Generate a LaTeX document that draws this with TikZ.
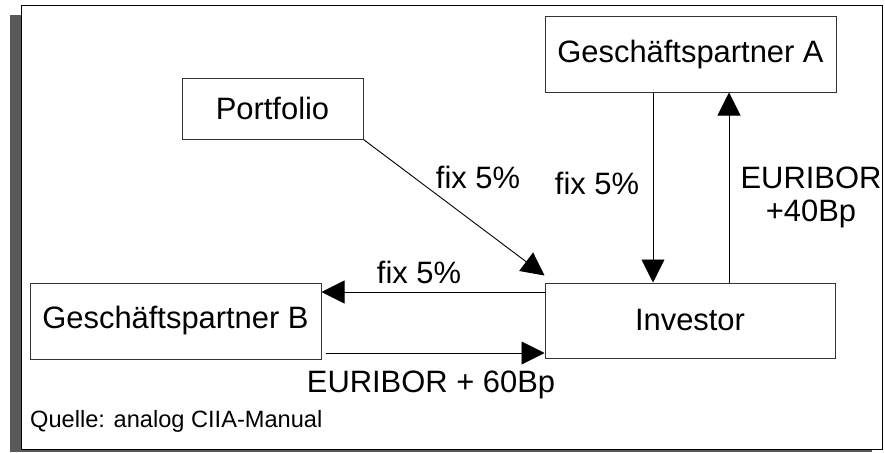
\documentclass[tikz,border=0pt]{standalone}
\usepackage{fontspec}
\setmainfont{Liberation Sans}
\usetikzlibrary{arrows.meta,positioning}

\begin{document}
\begin{tikzpicture}[x=1pt,y=-1pt]
\tikzstyle{box} = [
	shape=rectangle,
	draw=black!80, %border of the box
	fill=white,
	line width=1pt,
	inner sep=0pt,
	font=\fontsize{30.9}{34}\selectfont
];
\tikzstyle{lbl} = [
	inner sep=0pt,
	align=center,
	font=\fontsize{30.9}{33}\selectfont
];
\tikzstyle{pay} = [
	-{Triangle[length=23pt,width=23pt]},
	line width=0.9pt,
	draw=black
];

\useasboundingbox (0,0) rectangle (885,452);

%frame with shadow
\fill[black!65] (10,15) rectangle (872,452);
\draw[fill=white, line width=1pt] (21,6) rectangle (882,449);

\node[box, minimum width=181pt, minimum height=61pt](Portfolio) at (272.5,108.5) {Portfolio};
\node[box, minimum width=291pt, minimum height=75pt](PartnerA) at (690.5,54.5) {Geschäftspartner A};
\node[box, minimum width=291pt, minimum height=76pt](PartnerB) at (175.5,321) {Geschäftspartner B};
\node[box, minimum width=290pt, minimum height=75pt](Investor) at (690,320.5) {Investor};

%payments
\draw
	(Portfolio.south east) edge[pay] ([yshift=7pt]Investor.north west)
	([xshift=-37.5pt]PartnerA.south) edge[pay] ([xshift=-37pt]Investor.north)
	([xshift=39pt]Investor.north) edge[pay] ([xshift=38.5pt]PartnerA.south)
	([yshift=28.5pt]Investor.west) edge[pay] ([yshift=29pt]PartnerB.east)
	([yshift=-32pt,xshift=4pt]PartnerB.east) edge[pay] ([yshift=-32.5pt]Investor.west)
;

%labels
\node[lbl](fixA) at (478,177) {fix 5\%};
\node[lbl](fixB) at (597,183) {fix 5\%};
\node[lbl](euriA) at (811,197) {EURIBOR\\+40Bp};
\node[lbl](fixC) at (419,272) {fix 5\%};
\node[lbl](euriB) at (431,385) {EURIBOR + 60Bp};
\node[lbl, anchor=west, font=\fontsize{23.6}{26}\selectfont](source) at (30,421) {Quelle: analog CIIA-Manual};
\end{tikzpicture}
\end{document}
